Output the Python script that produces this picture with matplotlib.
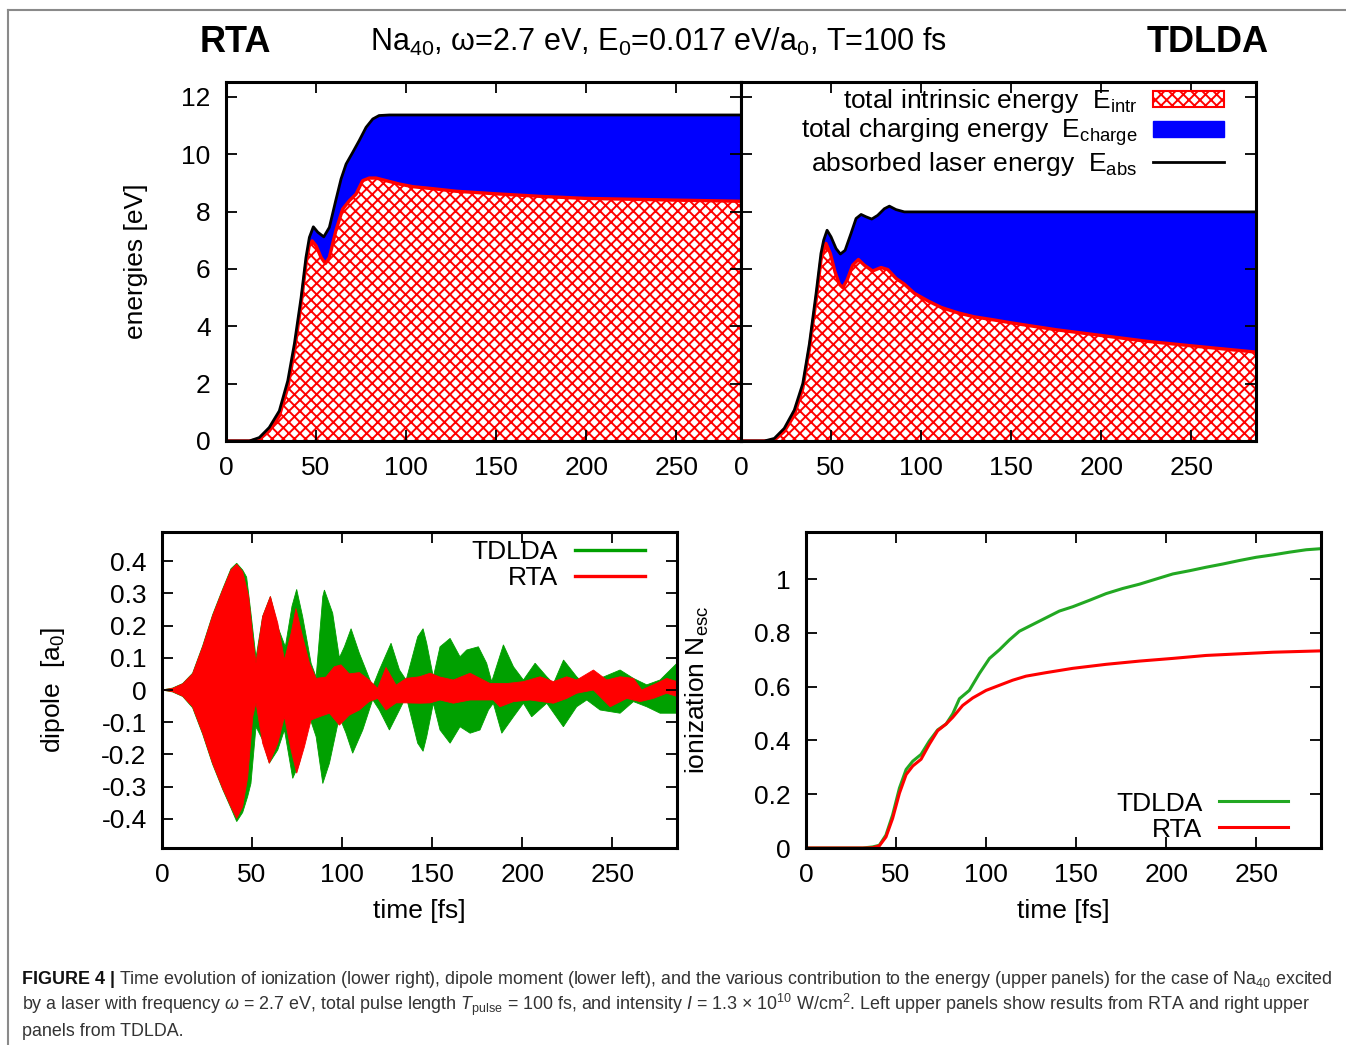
import numpy as np
import matplotlib
matplotlib.use('Agg')
import matplotlib.pyplot as plt
from matplotlib.patches import Patch
from matplotlib.lines import Line2D
from matplotlib.ticker import FuncFormatter, MultipleLocator

plt.rcParams['font.family'] = ['Liberation Sans', 'DejaVu Sans']
plt.rcParams['mathtext.fontset'] = 'custom'
plt.rcParams['mathtext.rm'] = 'Liberation Sans'
plt.rcParams['mathtext.it'] = 'Liberation Sans:italic'
plt.rcParams['mathtext.bf'] = 'Liberation Sans:bold'
plt.rcParams['hatch.linewidth'] = 1.4
plt.rcParams['axes.unicode_minus'] = False

# ---- energies (t [fs], E [eV]) ----
rta_abs = np.array([(0, 0), (13, 0), (18.5, 0.12), (24, 0.47), (29.6, 1.05), (34.3, 2.1),
                    (38, 3.4), (41.7, 5.0), (44.4, 6.4), (46.3, 7.1), (48.5, 7.47), (51, 7.28),
                    (54.3, 7.12), (57.4, 7.45), (61, 8.4), (63.9, 9.14), (66.7, 9.66),
                    (70.4, 10.07), (74, 10.48), (77.8, 10.94), (81.5, 11.23), (85, 11.35),
                    (90.7, 11.37), (150, 11.37), (286, 11.37)])
rta_intr = np.array([(0, 0), (13, 0), (18.5, 0.06), (24, 0.35), (29.6, 0.87), (34.3, 1.86),
                     (38, 3.14), (41.7, 4.77), (44.4, 6.17), (46.3, 6.85), (47.8, 6.98),
                     (50, 6.81), (52.8, 6.4), (55.2, 6.19), (57.4, 6.4), (61, 7.33),
                     (64.8, 8.09), (68.5, 8.38), (72.2, 8.61), (75.9, 9.08), (79.6, 9.17),
                     (83.3, 9.17), (88.9, 9.08), (96.3, 8.96), (103.7, 8.87), (114.8, 8.8),
                     (127.8, 8.71), (150, 8.62), (175, 8.53), (200, 8.46), (250, 8.4),
                     (286, 8.36)])
td_abs = np.array([(0, 0), (13, 0), (18.5, 0.09), (24, 0.44), (29.6, 1.08), (34.3, 2.0),
                   (38, 3.4), (41.7, 5.15), (44.4, 6.54), (45.9, 7.0), (47.8, 7.35), (50, 7.12),
                   (52.8, 6.71), (55.2, 6.52), (57.8, 6.65), (61.1, 7.24), (63.9, 7.76),
                   (66.7, 7.9), (69.4, 7.82), (72.6, 7.74), (75.9, 7.87), (79.6, 8.1),
                   (82.4, 8.19), (86.1, 8.07), (90.7, 7.99), (150, 7.99), (286, 7.99)])
td_intr = np.array([(0, 0), (13, 0), (18.5, 0.03), (24, 0.33), (29.6, 0.9), (34.3, 1.83),
                    (38, 3.23), (41.7, 4.91), (44.4, 6.31), (47.2, 6.89), (49.6, 6.54),
                    (52.2, 5.9), (54.6, 5.47), (56.5, 5.35), (58.9, 5.61), (62, 6.13),
                    (65.2, 6.33), (68.5, 6.13), (73.1, 5.93), (77.8, 6.05), (81.5, 5.98),
                    (86.1, 5.67), (90.7, 5.47), (96.3, 5.15), (103.7, 4.89), (111.1, 4.66),
                    (120.4, 4.47), (129.6, 4.33), (140.7, 4.22), (150, 4.12), (175, 3.88),
                    (200, 3.68), (225, 3.48), (250, 3.32), (286, 3.1)])

# ---- dipole envelopes (t [fs], d [a0]) ----
rta_dip_up = np.array([(0, 0), (5.9, 0.005), (11.5, 0.019), (17, 0.05), (22.6, 0.134),
                       (28.1, 0.23), (33.7, 0.31), (38.3, 0.372), (41.5, 0.39), (44.8, 0.367),
                       (48.1, 0.29), (50.4, 0.165), (52.2, 0.083), (55.9, 0.228), (60.2, 0.29),
                       (64.3, 0.207), (68, 0.093), (71.7, 0.176), (74.4, 0.253), (78.1, 0.165),
                       (81.9, 0.083), (85.6, 0.036), (91, 0.04), (95.7, 0.072), (99.4, 0.078),
                       (104, 0.05), (109.6, 0.054), (115, 0.031), (119.8, 0.005), (124.4, 0.07),
                       (130, 0.015), (135.6, 0.036), (143, 0.041), (148.9, 0.052), (154.4, 0.04),
                       (161.8, 0.031), (171.1, 0.052), (182.2, 0.02), (191.5, 0.02),
                       (200.7, 0.026), (210, 0.041), (217.4, 0.026), (224.8, 0.041),
                       (230.3, 0.031), (239.6, 0.062), (247, 0.031), (254.4, 0.041),
                       (261.8, 0.036), (266.4, 0.0), (272.9, 0.016), (280.3, 0.036),
                       (286, 0.026)])
rta_dip_lo = np.array([(0, 0), (5.9, -0.005), (11.5, -0.019), (17, -0.052), (22.6, -0.134),
                       (28.1, -0.227), (33.7, -0.305), (38.3, -0.362), (41.5, -0.398),
                       (44.8, -0.362), (47.6, -0.27), (50.4, -0.083), (52.2, -0.04),
                       (55.9, -0.165), (59.6, -0.227), (64.3, -0.165), (68, -0.083),
                       (71.7, -0.186), (74.8, -0.258), (79.1, -0.176), (82.8, -0.093),
                       (87.4, -0.083), (93, -0.072), (98.5, -0.109), (104, -0.078),
                       (109.6, -0.062), (115, -0.036), (119.8, -0.026), (124.4, -0.062),
                       (130, -0.04), (135.6, -0.04), (143.3, -0.041), (148.9, -0.04),
                       (154.4, -0.031), (161.8, -0.041), (171.1, -0.031), (184, -0.031),
                       (187.7, -0.052), (195.2, -0.036), (204.4, -0.031), (217.4, -0.041),
                       (224.8, -0.026), (230.3, -0.01), (239.6, 0.0), (248.9, -0.052),
                       (258.1, -0.026), (265.5, -0.036), (272.9, -0.026), (280.3, -0.01),
                       (286, -0.02)])
td_dip_up = np.array([(0, 0), (5.9, 0.006), (11.5, 0.02), (17, 0.052), (22.6, 0.137),
                      (28.1, 0.233), (33.7, 0.313), (38.3, 0.376), (41.5, 0.393), (44.8, 0.372),
                      (47, 0.35), (49.4, 0.238), (52.2, 0.1), (55.9, 0.228), (60.2, 0.29),
                      (64.3, 0.196), (68.5, 0.134), (72.2, 0.26), (74.8, 0.312), (78.1, 0.228),
                      (82.8, 0.083), (85.6, 0.04), (89.3, 0.29), (90.2, 0.31), (94.8, 0.238),
                      (98.5, 0.10), (101.3, 0.134), (105, 0.19), (109.6, 0.114), (117, 0.01),
                      (120.7, 0.062), (127.2, 0.145), (131.9, 0.062), (135.6, 0.031),
                      (142, 0.165), (145, 0.19), (147, 0.145), (150.7, 0.04), (154.4, 0.134),
                      (160, 0.16), (165.5, 0.103), (169.2, 0.124), (175.7, 0.134),
                      (180.3, 0.083), (183.1, 0.026), (189.6, 0.14), (195.2, 0.072),
                      (200.7, 0.031), (207.2, 0.083), (213.7, 0.041), (217.4, 0.02),
                      (223, 0.093), (230.3, 0.041), (235.9, 0.01), (243.3, 0.036),
                      (254.4, 0.062), (261.8, 0.036), (269.2, 0.016), (276.6, 0.031),
                      (286, 0.083)])
td_dip_lo = np.array([(0, 0), (5.9, -0.006), (11.5, -0.02), (17, -0.055), (22.6, -0.137),
                      (28.1, -0.23), (33.7, -0.308), (38.3, -0.366), (41.5, -0.408),
                      (44.8, -0.38), (47.6, -0.33), (49.4, -0.29), (52.2, -0.114),
                      (55.9, -0.155), (59.6, -0.227), (64.3, -0.186), (68, -0.124),
                      (72.6, -0.274), (76.3, -0.227), (81.9, -0.083), (85.6, -0.145),
                      (89.3, -0.29), (93, -0.227), (98.5, -0.083), (102.2, -0.134),
                      (105.9, -0.196), (111.5, -0.124), (117, -0.03), (120.7, -0.062),
                      (126.3, -0.124), (131.9, -0.062), (135.6, -0.02), (142, -0.165),
                      (145, -0.19), (147, -0.145), (150.7, -0.041), (154.4, -0.124),
                      (160, -0.165), (165.5, -0.114), (171.1, -0.134), (176.6, -0.124),
                      (181.3, -0.062), (184, -0.041), (188.7, -0.134), (195.2, -0.083),
                      (200.7, -0.041), (205.3, -0.083), (213.7, -0.041), (222.9, -0.114),
                      (230.3, -0.052), (235.9, -0.031), (243.3, -0.062), (254.4, -0.072),
                      (261.8, -0.036), (269.2, -0.052), (276.6, -0.072), (286, -0.072)])

# ---- ionization (t [fs], N_esc) ----
td_ion = np.array([(0, 0), (31.5, 0), (37, 0.004), (40.7, 0.01), (44.4, 0.048), (48.1, 0.123),
                   (51.9, 0.223), (55.6, 0.292), (59.3, 0.323), (63.9, 0.348), (68.5, 0.398),
                   (73.1, 0.439), (77.8, 0.461), (81.5, 0.499), (85.2, 0.555), (90.7, 0.586),
                   (96.3, 0.649), (101.9, 0.705), (107.4, 0.737), (113, 0.774), (118.5, 0.806),
                   (125.9, 0.831), (133.3, 0.856), (140.7, 0.881), (148.1, 0.897),
                   (157.4, 0.921), (166.7, 0.946), (175.9, 0.965), (185.2, 0.981),
                   (194.4, 1.0), (203.7, 1.019), (213, 1.031), (222.2, 1.044), (231.5, 1.056),
                   (240.7, 1.069), (250, 1.081), (259.3, 1.09), (268.5, 1.1), (277.8, 1.109),
                   (286, 1.113)])
rta_ion = np.array([(0, 0), (33, 0), (37, 0.001), (40.7, 0.008), (44.4, 0.041), (48.1, 0.11),
                    (51.9, 0.204), (55.6, 0.273), (59.3, 0.305), (63.9, 0.33), (68.5, 0.386),
                    (73.1, 0.436), (77.8, 0.461), (81.5, 0.486), (87, 0.53), (92.6, 0.558),
                    (100, 0.586), (107.4, 0.605), (114.8, 0.624), (122.2, 0.639),
                    (133.3, 0.652), (148.1, 0.668), (166.7, 0.683), (185.2, 0.695),
                    (203.7, 0.705), (222.2, 0.716), (240.7, 0.722), (259.3, 0.728),
                    (286, 0.733)])

RED = '#ff0000'
BLUE = '#0000ff'
GREEN = '#00a000'
GREEN2 = '#22a822'
FS = 19
HATCH = 'xxx'

W, H = 1346, 1045
fig = plt.figure(figsize=(W / 100, H / 100), dpi=100)


def box(l, t, r, b):
    return [l / W, 1 - b / H, (r - l) / W, (b - t) / H]


def style(ax):
    for s in ax.spines.values():
        s.set_linewidth(2.2)
    ax.tick_params(direction='in', top=True, right=True, length=8, width=1.3,
                   labelsize=FS, pad=11)
    ax.set_xlim(0, 286)
    ax.xaxis.set_major_locator(MultipleLocator(50))


fmt = FuncFormatter(lambda v, p: '%g' % (round(v, 2) + 0.0))

ax_rta = fig.add_axes(box(226, 82, 741, 441))
ax_td = fig.add_axes(box(741, 82, 1256, 441))
ax_dip = fig.add_axes(box(162, 532, 677, 848))
ax_ion = fig.add_axes(box(806, 532, 1321, 848))

# upper panels: stacked energies
for ax, e_abs, e_intr in [(ax_rta, rta_abs, rta_intr), (ax_td, td_abs, td_intr)]:
    style(ax)
    ax.fill_between(e_abs[:, 0], 0, e_abs[:, 1], color=BLUE, lw=0)
    ax.fill_between(e_intr[:, 0], 0, e_intr[:, 1], facecolor='white', edgecolor=RED,
                    hatch=HATCH, lw=0)
    ax.plot(e_intr[:, 0], e_intr[:, 1], color=RED, lw=2.4)
    ax.plot(e_abs[:, 0], e_abs[:, 1], color='black', lw=2.0)
    ax.set_ylim(0, 12.52)
    ax.yaxis.set_major_locator(MultipleLocator(2))
ax_td.tick_params(labelleft=False)
ax_rta.set_ylabel('energies [eV]', fontsize=FS)
ax_rta.yaxis.set_label_coords(-0.152, 0.5)

handles = [Patch(facecolor='white', edgecolor=RED, hatch=HATCH, lw=1.5),
           Patch(facecolor=BLUE, edgecolor=BLUE),
           Line2D([], [], color='black', lw=2)]
labels = [r'total intrinsic energy  E$_{\mathrm{intr}}$',
          r'total charging energy  E$_{\mathrm{charge}}$',
          r'absorbed laser energy  E$_{\mathrm{abs}}$']
ax_td.legend(handles, labels, loc='upper right', bbox_to_anchor=(0.938, 0.985),
             markerfirst=False, frameon=False, fontsize=FS, borderpad=0,
             borderaxespad=0, handlelength=2.7, handleheight=0.6, handletextpad=0.6,
             labelspacing=0.05)

# dipole
style(ax_dip)
for up, lo, c in [(td_dip_up, td_dip_lo, GREEN), (rta_dip_up, rta_dip_lo, RED)]:
    ax_dip.fill(np.r_[up[:, 0], lo[::-1, 0]], np.r_[up[:, 1], lo[::-1, 1]],
                facecolor=c, edgecolor=c, lw=0.6)
ax_dip.set_ylim(-0.49, 0.49)
ax_dip.yaxis.set_major_locator(MultipleLocator(0.1))
ax_dip.yaxis.set_major_formatter(fmt)
ax_dip.set_xlabel('time [fs]', fontsize=FS)
ax_dip.xaxis.set_label_coords(0.5, -0.16)
ax_dip.set_ylabel(r'dipole  [a$_0$]', fontsize=FS)
ax_dip.yaxis.set_label_coords(-0.185, 0.5)
ax_dip.legend([Line2D([], [], color=GREEN, lw=2.4), Line2D([], [], color=RED, lw=2.4)],
              ['TDLDA', 'RTA'], loc='upper right', bbox_to_anchor=(0.938, 0.975),
              markerfirst=False, frameon=False, fontsize=FS, borderpad=0,
              borderaxespad=0, handlelength=2.65, handletextpad=0.65, labelspacing=0.08)

# ionization
style(ax_ion)
ax_ion.plot(td_ion[:, 0], td_ion[:, 1], color=GREEN2, lw=2.2, label='TDLDA')
ax_ion.plot(rta_ion[:, 0], rta_ion[:, 1], color=RED, lw=2.2, label='RTA')
ax_ion.set_ylim(0, 1.175)
ax_ion.yaxis.set_major_locator(MultipleLocator(0.2))
ax_ion.yaxis.set_major_formatter(fmt)
ax_ion.set_xlabel('time [fs]', fontsize=FS)
ax_ion.xaxis.set_label_coords(0.5, -0.16)
ax_ion.set_ylabel(r'ionization N$_{\mathrm{esc}}$', fontsize=FS)
ax_ion.yaxis.set_label_coords(-0.185, 0.5)
ax_ion.legend(loc='lower right', bbox_to_anchor=(0.936, 0.02), markerfirst=False,
              frameon=False, fontsize=FS, borderpad=0, borderaxespad=0,
              handlelength=2.6, handletextpad=0.65, labelspacing=0.08)

# header
fig.text(235 / W, 1 - 52 / H, 'RTA', fontsize=26, fontweight='bold', ha='center',
         va='baseline')
fig.text(1208 / W, 1 - 52 / H, 'TDLDA', fontsize=26, fontweight='bold', ha='center',
         va='baseline')
fig.text(658 / W, 1 - 51 / H,
         r'Na$_{40}$, ω=2.7 eV, E$_0$=0.017 eV/a$_0$, T=100 fs',
         fontsize=22, ha='center', va='baseline')

# caption
CFS = 12.9
renderer = fig.canvas.get_renderer()
head = fig.text(22 / W, 1 - 984 / H, 'FIGURE 4 |', fontsize=CFS, fontweight='bold',
                color='#111111', va='baseline')
hx = head.get_window_extent(renderer).x1 / W
fig.text(hx + 4 / W, 1 - 984 / H,
         r'Time evolution of ionization (lower right), dipole moment (lower left), and the '
         r'various contribution to the energy (upper panels) for the case of Na$_{40}$ excited',
         fontsize=CFS, color='#333333', va='baseline')
fig.text(22 / W, 1 - 1010 / H,
         r'by a laser with frequency $\omega$ = 2.7 eV, total pulse length $T_{\mathrm{pulse}}$'
         r' = 100 fs, and intensity $I$ = 1.3 × 10$^{10}$ W/cm$^2$. Left upper panels show '
         r'results from RTA and right upper',
         fontsize=CFS, color='#333333', va='baseline')
fig.text(22 / W, 1 - 1036 / H, 'panels from TDLDA.', fontsize=CFS, color='#333333',
         va='baseline')

# frame of the figure
fig.add_artist(Line2D([8 / W, 8 / W], [0, 1 - 10 / H], color='#8a8a8a', lw=1.5,
                      transform=fig.transFigure))
fig.add_artist(Line2D([8 / W, 1], [1 - 10 / H, 1 - 10 / H], color='#8a8a8a', lw=1.5,
                      transform=fig.transFigure))

fig.savefig('out.png', dpi=100)
